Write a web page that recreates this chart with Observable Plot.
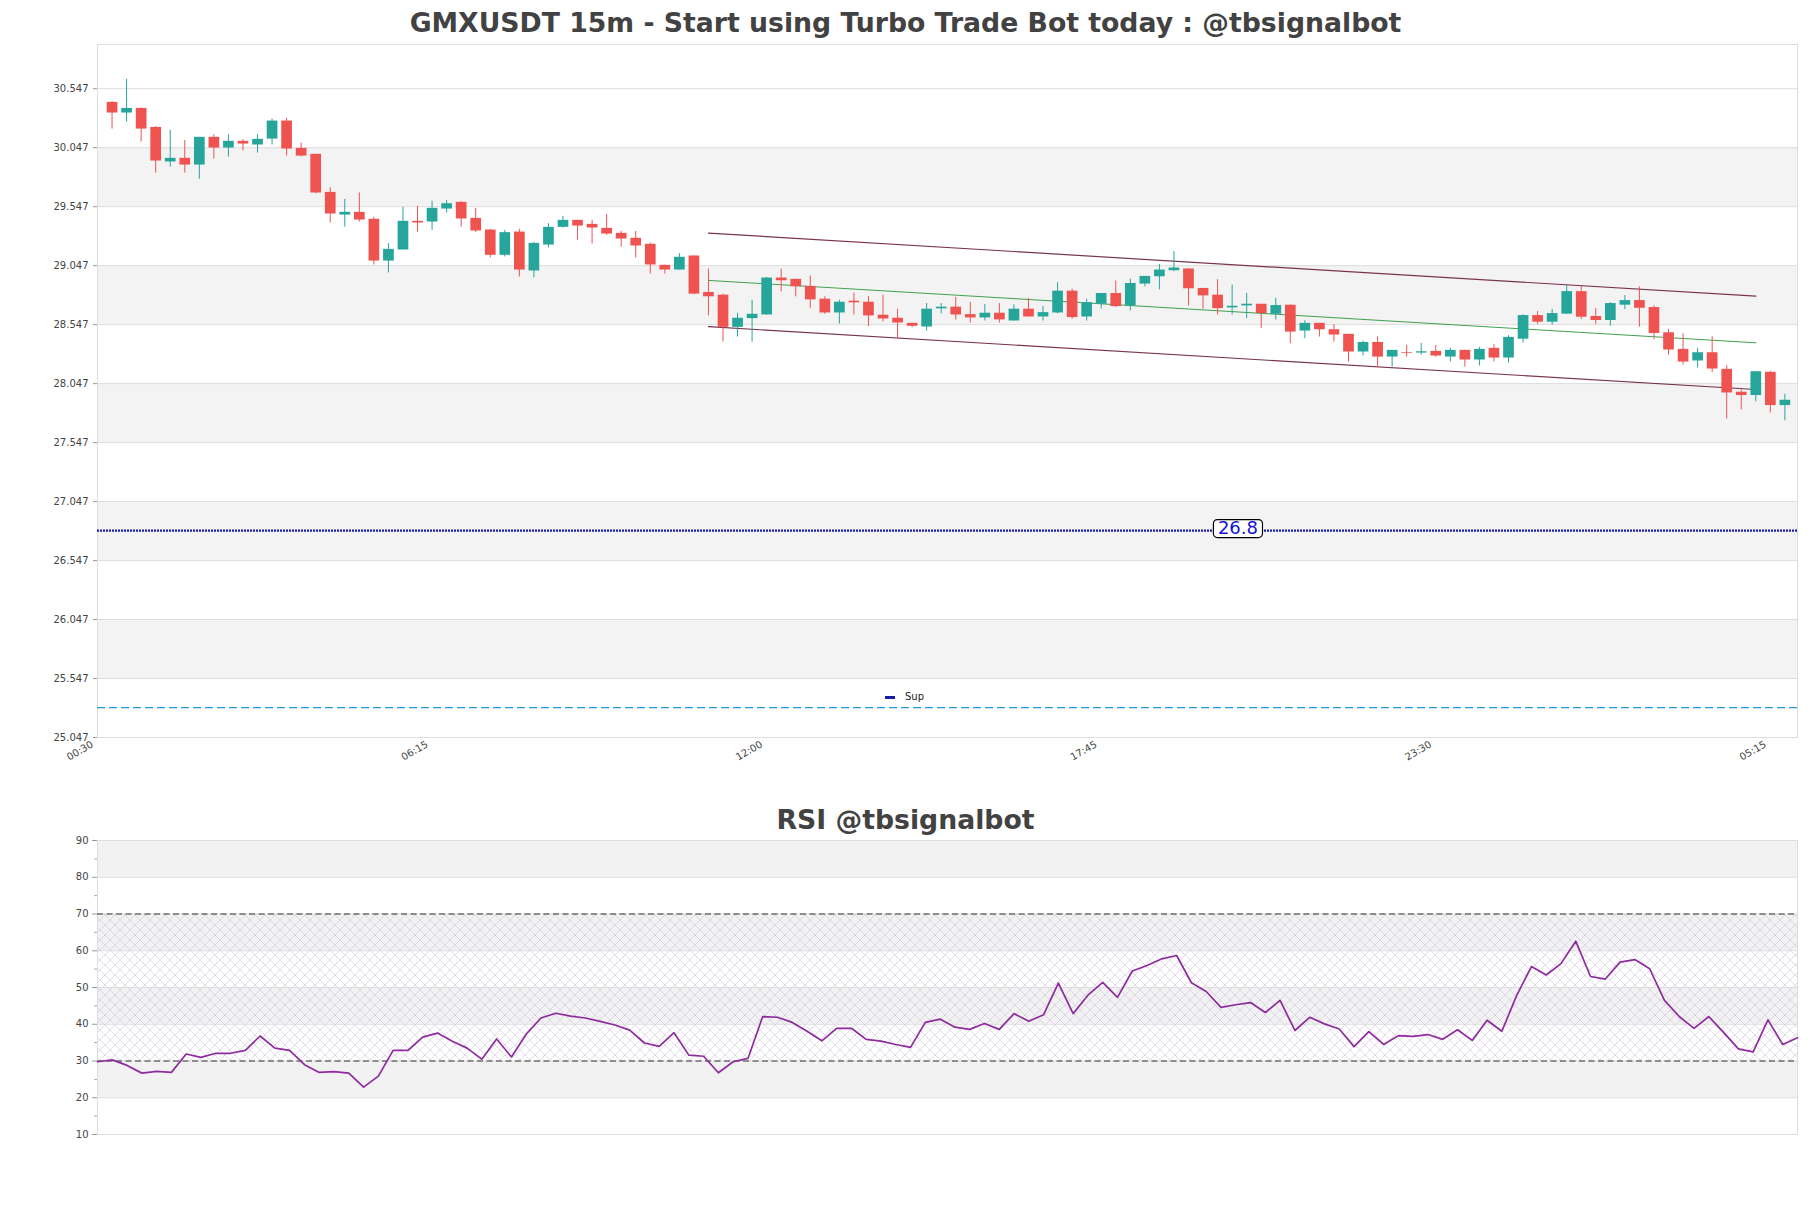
<!DOCTYPE html>
<html>
<head>
<meta charset="utf-8">
<script src="https://cdn.jsdelivr.net/npm/d3@7"></script>
<script src="https://cdn.jsdelivr.net/npm/@observablehq/plot@0.6"></script>
<style>
  html, body { margin: 0; padding: 0; background: #fff; }
  #wrap { position: relative; width: 1811px; height: 1208px; overflow: hidden; font-family: "DejaVu Sans", sans-serif; background: #fff; }
  .title { position: absolute; left: 0; width: 1811px; text-align: center; font-weight: bold; font-size: 26.7px; line-height: 26px; color: #424242; z-index: 3; }
  #main, #rsi { position: absolute; left: 0; z-index: 1; }
  #legend { position: absolute; left: 885px; top: 690px; font-size: 10px; line-height: 14px; color: #222; display: flex; align-items: center; z-index: 3; }
  #legend .sw { display: inline-block; width: 10px; height: 3px; background: #1a1aa8; margin-right: 10px; }
</style>
</head>
<body>
<div id="wrap">
  <div id="main" style="top:0px"></div>
  <div id="rsi" style="top:800px"></div>
  <div class="title" style="top:10px">GMXUSDT 15m - Start using Turbo Trade Bot today : @tbsignalbot</div>
  <div class="title" style="top:807px">RSI @tbsignalbot</div>
  <div id="legend"><span class="sw"></span><span>Sup</span></div>
</div>
<script>
// ---------------- data ----------------
const startTime = "2023-01-01T00:30Z";      // axis start; candle k sits k*15 min after it
const intervalMinutes = 15;
const xDomainEnd = "2023-01-02T05:43Z";

const opens = [30.431,30.341,30.380,30.219,29.926,29.957,29.900,30.135,30.044,30.101,30.070,30.120,30.273,30.041,29.991,29.668,29.476,29.499,29.440,29.086,
29.180,29.423,29.417,29.527,29.584,29.448,29.349,29.135,29.332,29.002,29.222,29.372,29.431,29.397,29.363,29.321,29.279,29.228,29.050,29.010,
29.129,28.820,28.797,28.524,28.598,28.629,28.942,28.931,28.871,28.763,28.646,28.746,28.737,28.627,28.601,28.558,28.527,28.681,28.695,28.632,
28.604,28.644,28.578,28.678,28.612,28.646,28.831,28.612,28.720,28.811,28.706,28.891,28.953,29.004,29.019,28.854,28.797,28.689,28.706,28.720,
28.635,28.712,28.493,28.558,28.504,28.465,28.315,28.396,28.272,28.309,28.306,28.320,28.272,28.329,28.247,28.346,28.264,28.424,28.624,28.568,
28.636,28.827,28.616,28.582,28.712,28.751,28.692,28.478,28.337,28.239,28.309,28.168,27.974,27.946,28.143,27.861];
const highs = [30.437,30.626,30.386,30.225,30.194,30.109,30.135,30.157,30.157,30.115,30.157,30.290,30.296,30.087,29.991,29.708,29.609,29.663,29.457,29.233,
29.541,29.550,29.592,29.600,29.589,29.533,29.355,29.346,29.355,29.245,29.403,29.465,29.431,29.431,29.482,29.338,29.338,29.239,29.050,29.149,
29.129,29.019,28.806,28.644,28.754,28.948,29.019,28.931,28.959,28.783,28.754,28.814,28.786,28.797,28.678,28.558,28.726,28.726,28.777,28.734,
28.717,28.726,28.715,28.769,28.700,28.902,28.848,28.763,28.811,28.916,28.933,28.956,29.056,29.166,29.019,28.854,28.928,28.882,28.811,28.720,
28.771,28.712,28.581,28.558,28.547,28.465,28.408,28.444,28.329,28.371,28.388,28.371,28.346,28.329,28.354,28.377,28.453,28.630,28.658,28.675,
28.881,28.875,28.684,28.734,28.793,28.867,28.706,28.506,28.470,28.346,28.444,28.199,27.993,28.148,28.151,27.957];
const lows = [30.205,30.265,30.095,29.832,29.883,29.832,29.779,29.951,29.968,30.019,30.002,30.070,29.976,29.968,29.657,29.409,29.375,29.417,29.053,28.985,
29.180,29.332,29.346,29.493,29.375,29.327,29.112,29.121,28.951,28.945,29.197,29.366,29.264,29.231,29.304,29.205,29.112,28.976,28.976,29.010,
28.800,28.621,28.399,28.442,28.399,28.629,28.825,28.783,28.686,28.635,28.553,28.629,28.530,28.570,28.428,28.521,28.493,28.638,28.587,28.561,
28.578,28.561,28.578,28.612,28.578,28.638,28.592,28.578,28.678,28.692,28.663,28.868,28.842,28.996,28.706,28.678,28.629,28.629,28.598,28.513,
28.587,28.385,28.428,28.442,28.399,28.230,28.281,28.182,28.188,28.272,28.289,28.270,28.230,28.188,28.196,28.230,28.222,28.391,28.548,28.543,
28.636,28.591,28.548,28.534,28.675,28.526,28.419,28.289,28.205,28.179,28.140,27.748,27.824,27.892,27.799,27.732];
const closes = [30.341,30.380,30.205,29.934,29.957,29.900,30.135,30.044,30.101,30.078,30.118,30.273,30.036,29.976,29.663,29.485,29.499,29.434,29.086,29.185,
29.423,29.409,29.533,29.572,29.443,29.341,29.135,29.327,29.010,29.236,29.372,29.431,29.383,29.366,29.315,29.273,29.214,29.053,29.010,29.118,
28.806,28.783,28.524,28.601,28.635,28.942,28.919,28.868,28.757,28.646,28.737,28.732,28.621,28.595,28.561,28.533,28.678,28.695,28.629,28.604,
28.644,28.587,28.678,28.612,28.649,28.831,28.607,28.734,28.811,28.700,28.896,28.956,29.010,29.027,28.851,28.791,28.683,28.703,28.720,28.641,
28.709,28.484,28.558,28.504,28.459,28.315,28.396,28.272,28.329,28.303,28.317,28.281,28.329,28.247,28.337,28.264,28.439,28.624,28.568,28.641,
28.827,28.610,28.582,28.726,28.751,28.686,28.472,28.332,28.230,28.309,28.171,27.968,27.946,28.148,27.861,27.906];

const yTicks = [25.047,25.547,26.047,26.547,27.047,27.547,28.047,28.547,29.047,29.547,30.047,30.547];
const yDomain = [25.047, 30.922];
const shadedBands = [[25.547,26.047],[26.547,27.047],[27.547,28.047],[28.547,29.047],[29.547,30.047]];
const xTickTimes = ["2023-01-01T00:30Z","2023-01-01T06:15Z","2023-01-01T12:00Z","2023-01-01T17:45Z","2023-01-01T23:30Z","2023-01-02T05:15Z"];

const channelTimes = ["2023-01-01T11:00Z","2023-01-02T05:00Z"];
const channelUpper = [29.323, 28.788];
const channelMiddle = [28.922, 28.393];
const channelLower = [28.530, 27.997];

const supLevel = 26.8;
const supLabelTime = "2023-01-01T20:06Z";
const supLabelText = "26.8";
const dashedLevel = 25.30;

const rsiValues = [29.8,30.3,28.8,26.7,27.2,26.9,31.9,31.0,32.1,32.1,32.9,36.8,33.5,32.9,29.0,26.9,27.1,26.7,22.9,25.9,
32.9,32.9,36.5,37.6,35.4,33.5,30.5,36.0,31.1,37.3,41.7,43.0,42.2,41.7,40.8,39.8,38.4,34.9,34.0,37.7,
31.6,31.3,26.8,29.8,30.7,42.1,41.9,40.5,38.1,35.5,38.9,38.9,35.9,35.4,34.5,33.7,40.5,41.4,39.2,38.6,
40.2,38.6,42.9,40.8,42.6,51.2,42.9,47.9,51.4,47.3,54.5,56.0,57.8,58.7,51.3,48.9,44.6,45.3,45.9,43.2,
46.5,38.3,41.9,40.1,38.7,33.9,38.0,34.5,36.9,36.7,37.2,35.9,38.5,35.6,41.1,38.1,47.8,55.7,53.4,56.5,
62.6,53.0,52.3,56.9,57.6,55.1,46.5,42.1,38.9,42.1,37.8,33.3,32.5,41.2,34.5,36.3];
const rsiMajorTicks = [10,20,30,40,50,60,70,80,90];
const rsiMinorTicks = [15,25,35,45,55,65,75,85];
const rsiShadedBands = [[20,30],[40,50],[60,70],[80,90]];
const rsiHatchBand = [[30,70]];
const rsiLevels = [30,70];

// ---------------- build ----------------
const GREEN = "#26a69a", RED = "#ef5350";
const t0 = new Date(startTime).getTime();
const candles = opens.map((o, i) => ({
  time: new Date(t0 + (i + 1) * intervalMinutes * 60000),
  open: o, high: highs[i], low: lows[i], close: closes[i]
}));
const up = candles.filter(d => d.close >= d.open);
const down = candles.filter(d => d.close < d.open);
const channel = (vals) => channelTimes.map((t, i) => ({time: new Date(t), v: vals[i]}));
const hhmm = d3.utcFormat("%H:%M");

const mainPlot = Plot.plot({
  width: 1811, height: 800,
  marginLeft: 97, marginRight: 14, marginTop: 44, marginBottom: 63,
  style: {fontFamily: "DejaVu Sans", fontSize: "10px", background: "transparent", color: "#444"},
  x: {type: "utc", domain: [new Date(startTime), new Date(xDomainEnd)]},
  y: {domain: yDomain},
  marks: [
    Plot.rect(shadedBands, {y1: d => d[0], y2: d => d[1], fill: "#f3f3f3"}),
    Plot.ruleY(yTicks, {stroke: "#dddddd", strokeWidth: 1}),
    Plot.frame({stroke: "#dddddd"}),
    Plot.axisY({ticks: yTicks, tickFormat: d3.format(".3f"), tickSize: 4, tickPadding: 5, label: null, stroke: "#999", fill: "#444", fontSize: 10}),
    Plot.axisX({ticks: xTickTimes.map(t => new Date(t)), tickFormat: hhmm, tickRotate: -30, tickSize: 0, tickPadding: 6, dx: -5, label: null, fill: "#444", fontSize: 10}),
    Plot.ruleY([dashedLevel], {stroke: "#1f9ad4", strokeWidth: 1.3, strokeDasharray: "8,4"}),
    Plot.ruleY([supLevel], {stroke: "#1c1cb8", strokeWidth: 2.2, strokeDasharray: "2,1"}),
    Plot.line(channel(channelUpper), {x: "time", y: "v", stroke: "#7a3352", strokeWidth: 1.2}),
    Plot.line(channel(channelLower), {x: "time", y: "v", stroke: "#7a3352", strokeWidth: 1.2}),
    Plot.line(channel(channelMiddle), {x: "time", y: "v", stroke: "#3fa14f", strokeWidth: 1}),
    Plot.ruleX(up, {x: "time", y1: "low", y2: "high", stroke: GREEN, strokeWidth: 1}),
    Plot.ruleX(down, {x: "time", y1: "low", y2: "high", stroke: RED, strokeWidth: 1}),
    Plot.ruleX(up, {x: "time", y1: "open", y2: "close", stroke: GREEN, strokeWidth: 10.7}),
    Plot.ruleX(down, {x: "time", y1: "open", y2: "close", stroke: RED, strokeWidth: 10.7}),
    Plot.text([{time: new Date(supLabelTime), v: supLevel, label: supLabelText}], {x: "time", y: "v", text: "label", fill: "#1414d8", fontSize: 18, dy: -2.3})
  ]
});
document.getElementById("main").appendChild(mainPlot);

// rounded box behind the 26.8 label (placed in the text's own coordinate frame)
(function () {
  const ns = "http://www.w3.org/2000/svg";
  const txt = mainPlot.querySelector('g[aria-label="text"] text');
  if (!txt) return;
  const bb = txt.getBBox();
  const r = document.createElementNS(ns, "rect");
  r.setAttribute("x", bb.x - 4.5);
  r.setAttribute("y", bb.y + 2.4);
  r.setAttribute("width", bb.width + 9);
  r.setAttribute("height", 18);
  r.setAttribute("rx", 4);
  r.setAttribute("fill", "#fff");
  r.setAttribute("stroke", "#000");
  r.setAttribute("stroke-width", 1.2);
  const tf = txt.getAttribute("transform");
  if (tf) r.setAttribute("transform", tf);
  txt.parentNode.insertBefore(r, txt);
})();

const rsiData = rsiValues.map((v, i) => ({i, v}));
const rsiPlot = Plot.plot({
  width: 1811, height: 408,
  marginLeft: 97, marginRight: 14, marginTop: 40, marginBottom: 74,
  style: {fontFamily: "DejaVu Sans", fontSize: "10px", background: "transparent", color: "#444"},
  x: {domain: [0, rsiValues.length - 1], axis: null},
  y: {domain: [10, 90]},
  marks: [
    Plot.rect(rsiShadedBands, {y1: d => d[0], y2: d => d[1], fill: "#f2f2f3"}),
    Plot.rect(rsiHatchBand, {y1: d => d[0], y2: d => d[1], fill: "url(#rsiHatch)"}),
    Plot.ruleY(rsiMajorTicks, {stroke: "#dddddd"}),
    Plot.frame({stroke: "#dddddd"}),
    Plot.axisY({ticks: rsiMajorTicks, tickSize: 5, tickPadding: 4, label: null, stroke: "#999", fill: "#444", fontSize: 10}),
    Plot.axisY({ticks: rsiMinorTicks, tickSize: 3, tickFormat: () => "", label: null, stroke: "#aaa"}),
    Plot.ruleY(rsiLevels, {stroke: "#333", strokeWidth: 1.2, strokeDasharray: "6,3.5"}),
    Plot.line(rsiData, {x: "i", y: "v", stroke: "#8e2c9e", strokeWidth: 1.7})
  ]
});
(function () {
  const ns = "http://www.w3.org/2000/svg";
  const defs = document.createElementNS(ns, "defs");
  const pat = document.createElementNS(ns, "pattern");
  pat.setAttribute("id", "rsiHatch");
  pat.setAttribute("patternUnits", "userSpaceOnUse");
  pat.setAttribute("width", "10");
  pat.setAttribute("height", "10");
  const p = document.createElementNS(ns, "path");
  p.setAttribute("d", "M0,0L10,10M10,0L0,10");
  p.setAttribute("stroke", "#cfc3d8");
  p.setAttribute("stroke-width", "0.6");
  p.setAttribute("fill", "none");
  pat.appendChild(p);
  defs.appendChild(pat);
  rsiPlot.insertBefore(defs, rsiPlot.firstChild);
})();
document.getElementById("rsi").appendChild(rsiPlot);
</script>
</body>
</html>
